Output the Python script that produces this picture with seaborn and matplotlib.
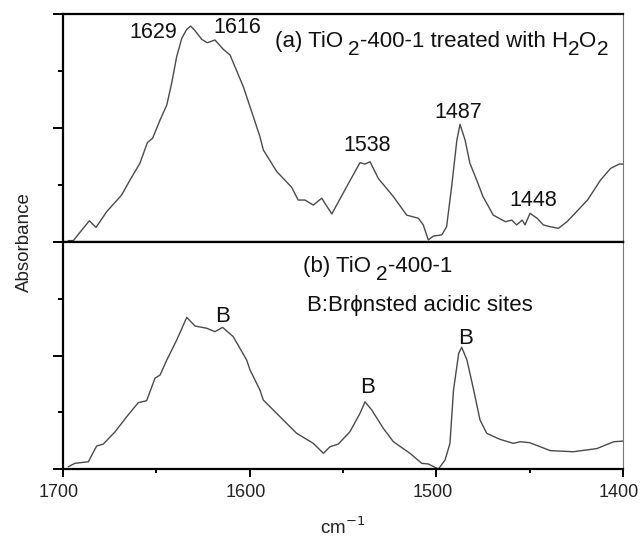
import matplotlib
matplotlib.use("Agg")
import matplotlib.pyplot as plt
import matplotlib.transforms as mtransforms
import seaborn as sns
import pandas as pd
from matplotlib.ticker import FixedLocator, NullFormatter

# ---- data ----
wn_a = [1697.2, 1694.5, 1685.9, 1682.3, 1676.6, 1668.6, 1664.1, 1658.8, 1654.8, 1652, 1648,
        1644.4, 1641.8, 1639.1, 1636.4, 1633.7, 1631.6, 1629.3, 1625.7, 1622.7, 1618.6, 1614.1,
        1610.5, 1603.4, 1599.8, 1594.5, 1592.7, 1585.5, 1577.5, 1574, 1570.4, 1565.9, 1561.4,
        1556, 1548, 1540.9, 1538.2, 1535.5, 1531.1, 1523, 1515.9, 1509.6, 1507, 1504.3,
        1501.6, 1497.1, 1494.5, 1491.8, 1489, 1487.3, 1484.6, 1482, 1478.4, 1475, 1469.5,
        1463, 1459.6, 1457, 1454, 1452.5, 1449.8, 1446, 1442.7, 1439, 1434.6, 1430, 1419,
        1412, 1406.6, 1402, 1400]
abs_a = [0.006, 0.006, 0.093, 0.064, 0.133, 0.206, 0.272, 0.345, 0.436, 0.455, 0.535,
         0.601, 0.696, 0.813, 0.893, 0.933, 0.947, 0.927, 0.889, 0.874, 0.886, 0.845,
         0.82, 0.681, 0.593, 0.462, 0.404, 0.309, 0.24, 0.184, 0.184, 0.162, 0.192,
         0.123, 0.243, 0.348, 0.342, 0.352, 0.279, 0.199, 0.118, 0.104, 0.075, 0.009,
         0.026, 0.031, 0.067, 0.243, 0.447, 0.516, 0.447, 0.345, 0.272, 0.199, 0.118,
         0.089, 0.096, 0.075, 0.096, 0.075, 0.126, 0.104, 0.075, 0.067, 0.06, 0.089, 0.184,
         0.272, 0.323, 0.342, 0.342]

wn_b = [1697.2, 1693.6, 1686.4, 1682, 1678.4, 1672.1, 1665.9, 1659.7, 1655.2, 1650.7, 1648,
        1644.4, 1639.1, 1633.7, 1629.3, 1623, 1618.6, 1614.5, 1608.8, 1601.6, 1599.8, 1594.5,
        1592.7, 1582, 1574.8, 1565.9, 1560.5, 1557, 1552.5, 1546.3, 1540.9, 1538.2, 1534.6,
        1528.4, 1523, 1514.1, 1507.8, 1504.3, 1498.9, 1495.3, 1492.7, 1490.8, 1488,
        1486.4, 1483.6, 1480, 1476.6, 1473, 1466, 1458.8, 1455, 1450, 1439, 1426.6, 1414,
        1405, 1400]
abs_b = [0.01, 0.025, 0.032, 0.101, 0.11, 0.164, 0.23, 0.292, 0.301, 0.4, 0.414,
         0.48, 0.568, 0.668, 0.63, 0.62, 0.605, 0.624, 0.583, 0.48, 0.436, 0.348,
         0.304, 0.216, 0.157, 0.113, 0.069, 0.098, 0.11, 0.164, 0.245, 0.296, 0.26,
         0.179, 0.12, 0.069, 0.025, 0.022, 0.0, 0.04, 0.113, 0.348, 0.51,
         0.536, 0.48, 0.348, 0.216, 0.157, 0.131, 0.113, 0.12, 0.116, 0.081, 0.076, 0.09,
         0.12, 0.123]

peak_labels_a = ["1629", "1616", "1538", "1487", "1448"]
peak_pos_a = [(1651.8, 0.921), (1606.8, 0.939), (1537.1, 0.425), (1488.4, 0.566), (1448.2, 0.184)]
peak_labels_b = ["B", "B", "B"]
peak_pos_b = [(1614.3, 0.674), (1536.6, 0.361), (1484.6, 0.577)]

x_major = [1700, 1600, 1500, 1400]
x_minor = [1650, 1550, 1450]

# ---- style ----
sns.set_theme(style="ticks")
plt.rcParams["font.family"] = ["Liberation Sans", "DejaVu Sans"]

fig = plt.figure(figsize=(6.41, 5.40), dpi=100)
L, W = 63 / 641, 560 / 641
ax_a = fig.add_axes([L, (540 - 242) / 540, W, 228 / 540])
ax_b = fig.add_axes([L, (540 - 469) / 540, W, 227 / 540])

df_a = pd.DataFrame({"wn": wn_a, "abs": abs_a})
df_b = pd.DataFrame({"wn": wn_b, "abs": abs_b})
line_col = "#4a4a4a"
sns.lineplot(data=df_a, x="wn", y="abs", ax=ax_a, color=line_col, lw=1.0)
sns.lineplot(data=df_b, x="wn", y="abs", ax=ax_b, color=line_col, lw=1.0)

for ax in (ax_a, ax_b):
    ax.set_xlim(1700, 1400)
    ax.set_ylim(0, 1)
    ax.set_xlabel("")
    ax.set_ylabel("")
    ax.set_facecolor("white")
    for s in ("left", "top", "bottom"):
        ax.spines[s].set_visible(True)
        ax.spines[s].set_color("black")
        ax.spines[s].set_linewidth(1.6)
    ax.spines["right"].set_visible(True)
    ax.spines["right"].set_color("#777777")
    ax.spines["right"].set_linewidth(0.8)
    ax.yaxis.set_major_locator(FixedLocator([0, 0.5, 1.0]))
    ax.yaxis.set_minor_locator(FixedLocator([0.25, 0.75]))
    ax.yaxis.set_major_formatter(NullFormatter())
    ax.tick_params(axis="y", which="major", direction="out", length=7, width=1.4, color="black", left=True, right=False)
    ax.tick_params(axis="y", which="minor", direction="out", length=3.5, width=1.4, color="black", left=True, right=False)

ax_a.set_xticks([])
ax_a.tick_params(axis="x", which="both", bottom=False, top=False, labelbottom=False)
ax_b.xaxis.set_major_locator(FixedLocator(x_major))
ax_b.xaxis.set_minor_locator(FixedLocator(x_minor))
ax_b.set_xticklabels([str(v) for v in x_major])
ax_b.tick_params(axis="x", which="major", direction="out", length=5.5, width=1.4, color="black",
                 labelsize=13, pad=5, labelcolor="#222222", top=False)
ax_b.tick_params(axis="x", which="minor", direction="out", length=3, width=1.4, color="black", top=False)
shift = mtransforms.ScaledTranslation(-4 / 100, 0, fig.dpi_scale_trans)
for lbl in ax_b.get_xticklabels():
    lbl.set_transform(lbl.get_transform() + shift)

txt_col = "#111111"
fs_num = 15.5
fs = 16
for lab, (x, y) in zip(peak_labels_a, peak_pos_a):
    ax_a.text(x, y, lab, ha="center", va="center", fontsize=fs_num, color=txt_col)
for lab, (x, y) in zip(peak_labels_b, peak_pos_b):
    ax_b.text(x, y, lab, ha="center", va="center", fontsize=fs, color=txt_col)

renderer = fig.canvas.get_renderer()


def rich_text(ax, x, y, pieces):
    """pieces: (string, gap_before_px, drop_px, size)"""
    dx = 0.0
    for s, gap, drop, size in pieces:
        dx += gap
        tr = mtransforms.offset_copy(ax.transData, fig=fig, x=dx, y=-drop, units="dots")
        t = ax.text(x, y, s, transform=tr, ha="left", va="baseline", fontsize=size, color=txt_col)
        bb = t.get_window_extent(renderer)
        dx += bb.width


sub = 15
rich_text(ax_a, 1586.4, 0.855, [("(a) TiO", 0, 0, fs), ("2", 5, 8, sub),
                                ("-400-1 treated with H", 0, 0, fs), ("2", 0, 8, sub),
                                ("O", 0, 0, fs), ("2", 0, 8, sub)])
rich_text(ax_b, 1571.4, 0.868, [("(b) TiO", 0, 0, fs), ("2", 5, 8, sub), ("-400-1", 0, 0, fs)])
ax_b.text(1569.3, 0.722, "B:Br\u03d5nsted acidic sites", ha="left", va="center", fontsize=fs,
          color=txt_col, family=["Liberation Sans", "DejaVu Sans"])

fig.text(24 / 641, (540 - 242) / 540, "Absorbance", rotation=90, ha="center", va="center",
         fontsize=13.5, color="#222222")
fig.text(343 / 641, (540 - 527) / 540, r"cm$^{-1}$", ha="center", va="center",
         fontsize=13.5, color="#222222")

fig.savefig("out.png", dpi=100, facecolor="white")
